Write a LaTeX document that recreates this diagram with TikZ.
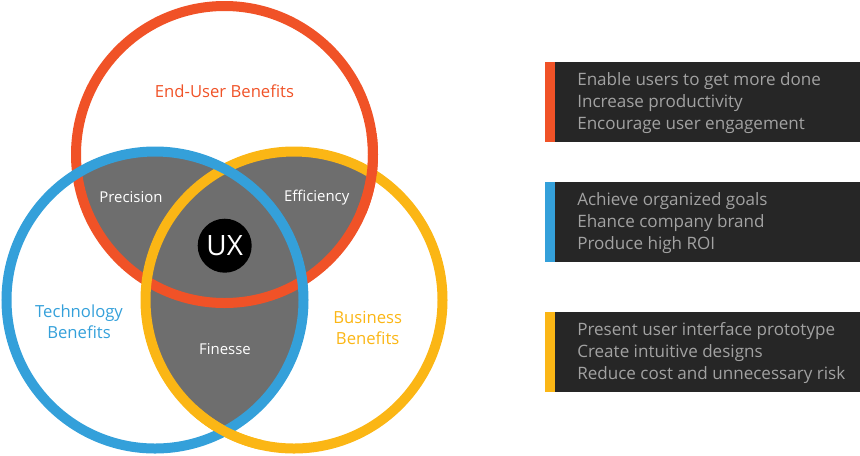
\documentclass[tikz,border=0pt]{standalone}
\usepackage{fontspec}
\setmainfont{Open Sans}
\definecolor{cred}{HTML}{F05227}
\definecolor{cblue}{HTML}{34A0DA}
\definecolor{cyellow}{HTML}{FBB615}
\definecolor{cgray}{HTML}{6E6E6E}
\definecolor{boxbg}{HTML}{262626}
\definecolor{boxtext}{HTML}{A2A2A2}
\tikzset{
  ring/.style={line width=7.5pt},
  outerlabel/.style={font=\fontsize{12.5}{15.5}\selectfont, align=center, inner sep=0pt},
  innerlabel/.style={font=\fontsize{11.2}{13}\selectfont, text=white, inner sep=0pt},
  boxlines/.style={font=\fontsize{12.8}{16.5}\selectfont, text=boxtext, align=left, anchor=west, inner sep=0pt},
}
\begin{document}
\begin{tikzpicture}[x=0.75pt,y=-0.75pt]
\useasboundingbox (0,0) rectangle (860,455);
\def\rr{148.5}
\coordinate (R) at (224.5,154.5);
\coordinate (B) at (155,300);
\coordinate (Y) at (294,300);
% gray overlaps
\begin{scope}
  \clip (R) circle [radius=\rr];
  \fill[cgray] (B) circle [radius=\rr];
  \fill[cgray] (Y) circle [radius=\rr];
\end{scope}
\begin{scope}
  \clip (B) circle [radius=\rr];
  \fill[cgray] (Y) circle [radius=\rr];
\end{scope}
% rings
\draw[ring, cred] (R) circle [radius=\rr];
\draw[ring, cyellow] (Y) circle [radius=\rr];
\draw[ring, cblue] (B) circle [radius=\rr];
\draw[ring, cred] ([shift={(-8:\rr)}]R) arc[start angle=-8, end angle=23, radius=\rr];
\draw[ring, cyellow] ([shift={(103:\rr)}]Y) arc[start angle=103, end angle=133, radius=\rr];
% labels
\node[outerlabel, text=cred] (eu) at (224.5,91) {End-User Benefits};
\node[outerlabel, text=cblue] (tb) at (79,322) {Technology\\Benefits};
\node[outerlabel, text=cyellow] (bb) at (367.7,328) {Business\\Benefits};
\node[innerlabel] (pr) at (131,197) {Precision};
\node[innerlabel] (ef) at (316.7,198) {Efficiency};
\node[innerlabel] (fi) at (225,349.5) {Finesse};
\node[circle, fill=black, minimum size=40.5pt, inner sep=0pt, text=white, font=\fontsize{21}{21}\selectfont] (ux) at (224.7,245.7) {UX};
% boxes
\fill[boxbg] (545,62) rectangle (860,142);
\fill[cred] (545,62) rectangle (555,142);
\fill[boxbg] (545,182) rectangle (860,262);
\fill[cblue] (545,182) rectangle (555,262);
\fill[boxbg] (545,312) rectangle (860,392);
\fill[cyellow] (545,312) rectangle (555,392);
\node[boxlines] (t1) at (577,103) {Enable users to get more done\\Increase productivity\\Encourage user engagement};
\node[boxlines] (t2) at (577,223) {Achieve organized goals\\Ehance company brand\\Produce high ROI};
\node[boxlines] (t3) at (577,353) {Present user interface prototype\\Create intuitive designs\\Reduce cost and unnecessary risk};
\end{tikzpicture}
\end{document}
